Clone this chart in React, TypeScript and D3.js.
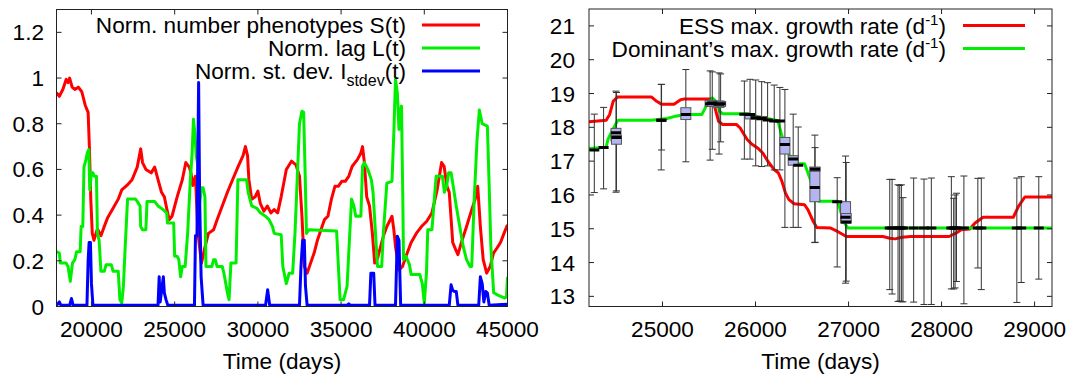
import * as d3 from "d3";

const FONT = "'Liberation Sans', Arial, Helvetica, sans-serif";
const FS = 22.6;

// ---------- left panel: normalised indicators ----------
const phenoDays = [
  17900, 18070, 18280, 18480, 18590, 18690, 18840, 19000, 19210, 19420,
  19630, 19800, 19880, 19960, 20050, 20150, 20360, 20570, 20770, 20980,
  21300, 21610, 21820, 22130, 22440, 22750, 22960, 23070, 23270, 23590,
  23800, 24000, 24210, 24380, 24520, 24670, 24840, 25150, 25460, 25670,
  25880, 25980, 26090, 26250, 26400, 26610, 26820, 27030, 27340, 27550,
  27860, 28170, 28480, 28800, 29110, 29250, 29380, 29460, 29630, 29840,
  30000, 30150, 30360, 30570, 30780, 30980, 31190, 31400, 31710, 32020,
  32290, 32500, 32650, 32790, 32960, 33170, 33380, 33580, 33790, 34000,
  34210, 34420, 34630, 34830, 35040, 35250, 35460, 35670, 35980, 36190,
  36290, 36400, 36540, 36710, 36880, 37020, 37190, 37330, 37540, 37750,
  38060, 38170, 38270, 38480, 38690, 38900, 39210, 39520, 39830, 40150,
  40460, 40770, 41040, 41190, 41360, 41500, 41710, 41880, 42020, 42230,
  42540, 42850, 43060, 43210, 43370, 43540, 43750, 43960, 44160, 44370,
  44580, 44790, 45000,
];
const phenoValue = [
  0.936, 0.92, 0.95, 0.994, 0.98, 1.0, 0.96, 0.95, 0.96, 0.94,
  0.88, 0.85, 0.69, 0.47, 0.32, 0.29, 0.34, 0.31, 0.35, 0.39,
  0.43, 0.47, 0.51, 0.53, 0.555, 0.61, 0.69, 0.63, 0.6, 0.585,
  0.61, 0.555, 0.5, 0.48, 0.43, 0.38, 0.395, 0.48, 0.555, 0.63,
  0.61, 0.585, 0.53, 0.57, 0.32, 0.19, 0.26, 0.32, 0.336, 0.38,
  0.44, 0.5, 0.555, 0.61, 0.66, 0.7, 0.66, 0.555, 0.47, 0.48,
  0.505, 0.45, 0.417, 0.44, 0.41, 0.424, 0.41, 0.48, 0.6, 0.636,
  0.62, 0.57, 0.395, 0.175, 0.146, 0.19, 0.234, 0.29, 0.336, 0.38,
  0.395, 0.47, 0.526, 0.526, 0.548, 0.548, 0.57, 0.614, 0.643, 0.672,
  0.7, 0.63, 0.48, 0.44, 0.32, 0.19, 0.21, 0.25, 0.307, 0.35,
  0.395, 0.336, 0.263, 0.16, 0.175, 0.22, 0.28, 0.32, 0.35, 0.373,
  0.41, 0.51, 0.63, 0.614, 0.526, 0.5, 0.28, 0.25, 0.227, 0.28,
  0.35, 0.424, 0.47, 0.526, 0.35, 0.205, 0.146, 0.175, 0.234, 0.256,
  0.28, 0.32, 0.358,
];

const lagDays = [
  17900, 18070, 18130, 18480, 18590, 18730, 18860, 19000, 19110, 19320,
  19380, 19480, 19550, 19670, 19750, 19840, 19900, 20000, 20090, 20170,
  20300, 20360, 20460, 20570, 20770, 20880, 21190, 21300, 21610, 21710,
  21820, 21920, 22020, 22130, 22170, 22650, 22750, 22920, 22960, 23065,
  23270, 23340, 23795, 24000, 24310, 24520, 24570, 24940, 25000, 25150,
  25250, 25360, 25460, 25630, 25780, 25930, 26050, 26130, 26210, 26300,
  26400, 26500, 26610, 26710, 26820, 26880, 27230, 27340, 27440, 27550,
  27860, 27960, 28170, 28270, 28380, 28690, 28800, 29320, 29420, 29630,
  29940, 30150, 30460, 30670, 30880, 30980, 31400, 31500, 31710, 31880,
  32090, 32230, 32380, 32500, 32650, 32750, 32840, 32920, 33070, 34730,
  34840, 34940, 35150, 35360, 35500, 35630, 35770, 35880, 36190, 36290,
  36400, 36610, 36820, 36920, 37070, 37190, 37440, 37540, 37750, 38060,
  38170, 38270, 38380, 38480, 38540, 38630, 38710, 38750, 38900, 39110,
  39210, 39730, 39880, 40000, 40130, 40210, 40460, 40710, 41090, 41210,
  41340, 41460, 41610, 41710, 41920, 42130, 42340, 42540, 42750, 42850,
  43000, 43170, 43310, 43480, 43790, 43900, 44000, 44170, 44420, 44840,
  44940, 45000,
];
const lagValue = [
  0.24, 0.234, 0.19, 0.19, 0.175, 0.11, 0.19, 0.205, 0.24, 0.24,
  0.35, 0.35, 0.61, 0.643, 0.672, 0.687, 0.51, 0.585, 0.585, 0.57,
  0.57, 0.32, 0.29, 0.154, 0.154, 0.183, 0.183, 0.154, 0.154, 0.03,
  0.015, 0.088, 0.25, 0.41, 0.47, 0.47, 0.46, 0.44, 0.35, 0.336,
  0.336, 0.46, 0.46, 0.44, 0.424, 0.41, 0.365, 0.365, 0.22, 0.22,
  0.205, 0.13, 0.175, 0.175, 0.32, 0.54, 0.672, 0.82, 0.76, 0.66,
  0.614, 0.453, 0.52, 0.52, 0.48, 0.175, 0.175, 0.205, 0.205, 0.175,
  0.175, 0.146, 0.06, 0.03, 0.19, 0.19, 0.555, 0.555, 0.5, 0.44,
  0.43, 0.41, 0.395, 0.38, 0.35, 0.32, 0.314, 0.175, 0.1, 0.146,
  0.146, 0.32, 0.585, 0.8, 0.855, 0.85, 0.585, 0.32, 0.336, 0.33,
  0.175, 0.03, 0.03, 0.088, 0.29, 0.47, 0.44, 0.395, 0.395, 0.614,
  0.63, 0.6, 0.555, 0.5, 0.32, 0.175, 0.175, 0.32, 0.54, 0.548,
  0.76, 0.994, 0.936, 0.775, 0.85, 0.877, 0.47, 0.205, 0.22, 0.183,
  0.14, 0.14, 0.1, 0.015, 0.146, 0.336, 0.336, 0.57, 0.57, 0.5,
  0.526, 0.585, 0.585, 0.54, 0.44, 0.35, 0.263, 0.205, 0.175, 0.175,
  0.47, 0.73, 0.86, 0.8, 0.79, 0.526, 0.263, 0.06, 0.05, 0.037,
  0.044, 0.13,
];

const devDays = [
  17900, 18070, 18170, 18690, 18800, 18900, 19730, 19800, 19860, 19940,
  20000, 20090, 24000, 24070, 24130, 24320, 24380, 24480, 24590, 26190,
  26250, 26340, 26440, 26500, 26590, 26710, 30460, 30590, 30710, 32500,
  32590, 32690, 32790, 32860, 32960, 35360, 35460, 35560, 36710, 36790,
  36960, 37040, 38270, 38380, 38480, 38580, 41500, 41610, 41710, 41810,
  41920, 42020, 43270, 43370, 43480, 43580, 43690, 43790, 43900, 44940,
  45000,
];
const devValue = [
  0.005, 0.02, 0.005, 0.005, 0.035, 0.005, 0.005, 0.2, 0.28, 0.28,
  0.1, 0.005, 0.005, 0.13, 0.02, 0.13, 0.06, 0.03, 0.005, 0.005,
  0.31, 0.31, 0.98, 0.47, 0.13, 0.005, 0.005, 0.073, 0.005, 0.005,
  0.175, 0.29, 0.29, 0.09, 0.005, 0.005, 0.012, 0.005, 0.005, 0.146,
  0.146, 0.005, 0.005, 0.307, 0.29, 0.005, 0.005, 0.095, 0.07, 0.066,
  0.066, 0.005, 0.005, 0.13, 0.1, 0.02, 0.066, 0.06, 0.005, 0.01,
  0.005,
];

const leftXTicks = [20000, 25000, 30000, 35000, 40000, 45000];
const leftYTicks = [0, 0.2, 0.4, 0.6, 0.8, 1, 1.2];

// ---------- right panel: growth rates ----------
const essDays = [
  24200, 24395, 24432, 24470, 24518, 24880, 24937, 24993, 25124, 25199,
  25236, 25517, 25554, 25603, 25648, 25797, 25835, 25910, 25966, 26022,
  26078, 26134, 26201, 26246, 26284, 26321, 26359, 26415, 26527, 26564,
  26620, 26658, 26808, 26882, 26976, 27369, 27444, 27500, 27575, 27668,
  28080, 28155, 28210, 28304, 28360, 28446, 28771, 28827, 28895, 29200,
];
const essRate = [
  18.16, 18.21, 18.38, 18.77, 18.9, 18.9, 18.77, 18.68, 18.68, 18.82,
  18.84, 18.84, 18.68, 18.18, 18.08, 18.08, 17.98, 17.64, 17.49, 17.39,
  17.24, 16.99, 16.75, 16.65, 16.4, 16.06, 15.86, 15.74, 15.71, 15.56,
  15.22, 15.04, 15.02, 14.92, 14.77, 14.77, 14.72, 14.7, 14.75, 14.77,
  14.77, 14.87, 14.97, 14.99, 15.17, 15.34, 15.34, 15.66, 15.94, 15.94,
];

const domDays = [
  24200, 24395, 24413, 24450, 24507, 24525, 24880, 25049, 25143, 25236,
  25423, 25480, 25536, 25592, 25610, 25648, 25910, 25985, 26059, 26153,
  26228, 26246, 26284, 26321, 26359, 26396, 26433, 26527, 26564, 26602,
  26639, 26677, 26882, 26920, 26957, 26994, 29200,
];
const domRate = [
  17.37, 17.41, 17.64, 17.84, 18.15, 18.21, 18.21, 18.26, 18.33, 18.38,
  18.38, 18.68, 18.87, 18.72, 18.48, 18.4, 18.4, 18.35, 18.28, 18.25,
  18.2, 18.13, 17.74, 17.49, 17.19, 17.09, 16.92, 16.92, 16.65, 16.35,
  16.11, 15.81, 15.81, 15.47, 15.17, 15.02, 15.02,
];

// candlesticks of the observed population
const boxDays = [
  24267, 24367, 24500, 24505, 24986, 24990, 25251, 25512, 25535, 25608,
  25625, 25880, 25941, 26002, 26066, 26130, 26201, 26262, 26316, 26405,
  26459, 26638, 26640, 26878, 26968, 26975, 27443, 27468, 27532, 27550,
  27568, 27585, 27700, 27811, 27890, 28105, 28130, 28145, 28160, 28240,
  28390, 28427, 28809, 28856, 29045,
];
const whiskerLow = [
  16.07, 16.18, 16.08, 16.12, 16.74, 17.33, 16.98, 17.03, 17.35, 17.21,
  17.57, 17.06, 17.06, 16.86, 16.84, 16.86, 16.74, 16.74, 15.04, 15.04,
  15.04, 14.59, 14.6, 13.87, 13.39, 13.45, 13.2, 13.07, 12.85, 12.86,
  12.84, 12.84, 12.83, 12.76, 12.76, 13.22, 13.22, 13.25, 13.44, 12.78,
  13.84, 13.2, 12.82, 13.41, 13.51,
];
const whiskerHigh = [
  18.39, 18.59, 19.07, 19.03, 19.27, 19.27, 19.71, 19.67, 19.64, 19.61,
  19.58, 19.37, 19.42, 19.4, 19.35, 19.32, 19.25, 19.18, 19.12, 18.39,
  18.01, 17.77, 17.4, 16.51, 17.15, 16.96, 16.46, 16.46, 16.3, 16.28,
  16.3, 15.92, 16.5, 16.47, 16.5, 16.54, 15.9, 16.0, 16.05, 16.56,
  16.49, 16.5, 16.5, 16.54, 16.54,
];
const boxLow = [
  17.33, 17.4, 17.6, 17.5, 18.21, 18.21, 18.23, 18.62, 18.62, 18.59,
  18.62, 18.39, 18.25, 18.24, 18.22, 18.22, 18.19, 18.19, 17.21, 16.88,
  16.88, 15.8, 16.7, 15.8, 15.17, 15.17, 15.02, 15.02, 15.02, 15.02,
  15.02, 15.02, 15.02, 15.02, 15.02, 15.02, 15.02, 15.02, 15.02, 15.02,
  15.02, 15.02, 15.02, 15.02, 15.02,
];
const boxHigh = [
  17.33, 17.4, 17.97, 17.76, 18.21, 18.21, 18.58, 18.8, 18.78, 18.78,
  18.76, 18.39, 18.39, 18.33, 18.32, 18.22, 18.19, 18.19, 17.7, 17.16,
  16.88, 16.82, 16.82, 15.8, 15.8, 15.45, 15.02, 15.02, 15.02, 15.02,
  15.02, 15.02, 15.02, 15.02, 15.02, 15.02, 15.02, 15.02, 15.02, 15.02,
  15.02, 15.02, 15.02, 15.02, 15.02,
];
const boxMedian = [
  17.33, 17.4, 17.84, 17.7, 18.21, 18.21, 18.38, 18.7, 18.72, 18.68,
  18.7, 18.39, 18.38, 18.28, 18.26, 18.22, 18.19, 18.19, 17.49, 17.06,
  16.88, 16.22, 16.76, 15.8, 15.34, 15.2, 15.02, 15.02, 15.02, 15.02,
  15.02, 15.02, 15.02, 15.02, 15.02, 15.02, 15.02, 15.02, 15.02, 15.02,
  15.02, 15.02, 15.02, 15.02, 15.02,
];

const rightXTicks = [25000, 26000, 27000, 28000, 29000];
const rightYTicks = [13, 14, 15, 16, 17, 18, 19, 20, 21];

const RED = "#ff0000";
const GREEN = "#00ee00";
const BLUE = "#0000ff";

const L = { x0: 56.5, x1: 507.5, y0: 9.5, y1: 306.5 };
const R = { x0: 589, x1: 1052, y0: 9, y1: 306.5 };

const xL = d3.scaleLinear().domain([17900, 45000]).range([L.x0, L.x1]);
const yL = d3.scaleLinear().domain([0, 1.3]).range([L.y1, L.y0]);
const xR = d3.scaleLinear().domain([24210, 29187]).range([R.x0, R.x1]);
const yR = d3.scaleLinear().domain([12.7, 21.5]).range([R.y1, R.y0]);

function series(days: number[], vals: number[], x: any, y: any) {
  const pts = days.map((d, i) => [d, vals[i]] as [number, number]);
  return d3.line<[number, number]>().x((p) => x(p[0])).y((p) => y(p[1]))(pts) || "";
}

function Frame({ box, xs, ys, x, y, yFmt, yLabelX }: any) {
  const tick = 5;
  return (
    <g>
      <rect x={box.x0} y={box.y0} width={box.x1 - box.x0} height={box.y1 - box.y0}
        fill="none" stroke="#222" strokeWidth={1} />
      {xs.map((t: number) => (
        <g key={"x" + t}>
          <line x1={x(t)} x2={x(t)} y1={box.y1} y2={box.y1 - tick} stroke="#222" />
          <line x1={x(t)} x2={x(t)} y1={box.y0} y2={box.y0 + tick} stroke="#222" />
          <text x={x(t)} y={337} textAnchor="middle" fontSize={FS} fontFamily={FONT}>{t}</text>
        </g>
      ))}
      {ys.map((v: number) => (
        <g key={"y" + v}>
          <line x1={box.x0} x2={box.x0 + tick} y1={y(v)} y2={y(v)} stroke="#222" />
          <line x1={box.x1} x2={box.x1 - tick} y1={y(v)} y2={y(v)} stroke="#222" />
          <text x={yLabelX} y={y(v) + 8} textAnchor="end" fontSize={FS} fontFamily={FONT}>{yFmt(v)}</text>
        </g>
      ))}
      <text x={(box.x0 + box.x1) / 2} y={369} textAnchor="middle" fontSize={FS} fontFamily={FONT}>Time (days)</text>
    </g>
  );
}

export default function App() {
  const boxHalf = 5;
  const capHalf = 3.5;
  return (
    <svg width={1083} height={378} style={{ position: "absolute", left: 0, top: 0, background: "#fff" }}>
      <defs>
        <clipPath id="clipL"><rect x={L.x0} y={L.y0} width={L.x1 - L.x0} height={L.y1 - L.y0} /></clipPath>
        <clipPath id="clipR"><rect x={R.x0} y={R.y0} width={R.x1 - R.x0} height={R.y1 - R.y0} /></clipPath>
      </defs>
      <rect width={1083} height={378} fill="#fff" />

      {/* left panel */}
      <g clipPath="url(#clipL)" fill="none" strokeWidth={3} strokeLinejoin="round">
        <path d={series(phenoDays, phenoValue, xL, yL)} stroke={RED} />
        <path d={series(lagDays, lagValue, xL, yL)} stroke={GREEN} />
        <path d={series(devDays, devValue, xL, yL)} stroke={BLUE} />
      </g>
      <Frame box={L} xs={leftXTicks} ys={leftYTicks} x={xL} y={yL} yFmt={(v: number) => String(v)} yLabelX={44} />
      <g fontFamily={FONT} fontSize={FS}>
        <text x={406} y={33} textAnchor="end">Norm. number phenotypes S(t)</text>
        <text x={406} y={56} textAnchor="end">Norm. lag L(t)</text>
        <text x={406} y={79} textAnchor="end">
          Norm. st. dev. I<tspan fontSize={16} dy={7}>stdev</tspan><tspan dy={-7}>(t)</tspan>
        </text>
        <line x1={422} x2={480} y1={25} y2={25} stroke={RED} strokeWidth={3} />
        <line x1={422} x2={480} y1={48} y2={48} stroke={GREEN} strokeWidth={3} />
        <line x1={422} x2={480} y1={71} y2={71} stroke={BLUE} strokeWidth={3} />
      </g>

      {/* right panel */}
      <g clipPath="url(#clipR)">
        <g fill="none" strokeWidth={3} strokeLinejoin="round">
          <path d={series(essDays, essRate, xR, yR)} stroke={RED} />
          <path d={series(domDays, domRate, xR, yR)} stroke={GREEN} />
        </g>
        {boxDays.map((d, i) => {
          const cx = xR(d);
          return (
            <g key={"w" + i} stroke="#333" strokeWidth={1}>
              <line x1={cx} x2={cx} y1={yR(whiskerLow[i])} y2={yR(whiskerHigh[i])} />
              <line x1={cx - capHalf} x2={cx + capHalf} y1={yR(whiskerLow[i])} y2={yR(whiskerLow[i])} />
              <line x1={cx - capHalf} x2={cx + capHalf} y1={yR(whiskerHigh[i])} y2={yR(whiskerHigh[i])} />
            </g>
          );
        })}
        {boxDays.map((d, i) => {
          const cx = xR(d);
          const h = yR(boxLow[i]) - yR(boxHigh[i]);
          return h > 0.5 ? (
            <rect key={"b" + i} x={cx - boxHalf} y={yR(boxHigh[i])} width={boxHalf * 2} height={h}
              fill="#b4b4f2" stroke="#555" strokeWidth={1} />
          ) : null;
        })}
        {boxDays.map((d, i) => {
          const cx = xR(d);
          return (
            <line key={"m" + i} x1={cx - boxHalf} x2={cx + boxHalf} y1={yR(boxMedian[i])} y2={yR(boxMedian[i])}
              stroke="#000" strokeWidth={3} />
          );
        })}
      </g>
      <Frame box={R} xs={rightXTicks} ys={rightYTicks} x={xR} y={yR} yFmt={(v: number) => String(v)} yLabelX={575} />
      <g fontFamily={FONT} fontSize={FS}>
        <text x={946} y={33.5} textAnchor="end">
          ESS max. growth rate (d<tspan fontSize={15} dy={-9}>-1</tspan><tspan dy={9}>)</tspan>
        </text>
        <text x={946} y={56.5} textAnchor="end">
          Dominant’s max. growth rate (d<tspan fontSize={15} dy={-9}>-1</tspan><tspan dy={9}>)</tspan>
        </text>
        <line x1={963} x2={1025} y1={25.5} y2={25.5} stroke={RED} strokeWidth={3} />
        <line x1={963} x2={1025} y1={48.5} y2={48.5} stroke={GREEN} strokeWidth={3} />
      </g>
    </svg>
  );
}
